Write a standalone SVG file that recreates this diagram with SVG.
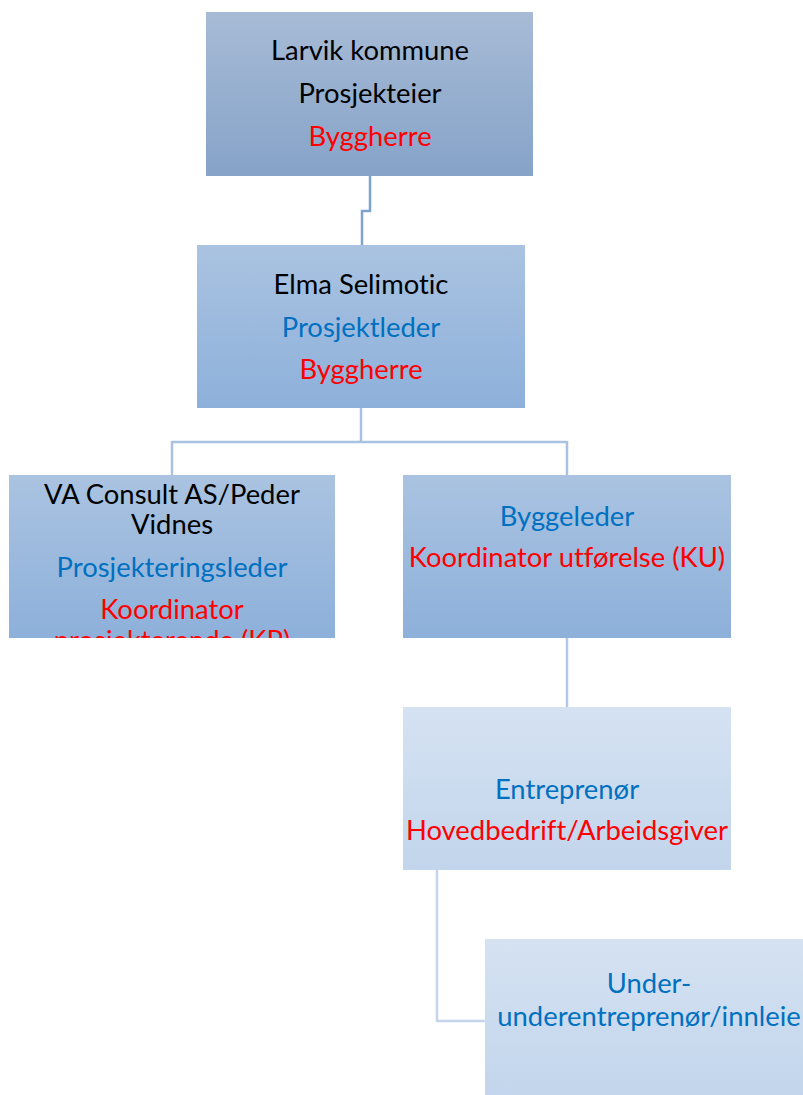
<svg xmlns="http://www.w3.org/2000/svg" width="803" height="1095" viewBox="0 0 803 1095">
<style>
text{font-family:Lato,"Carlito","Liberation Sans",sans-serif;font-size:27.4px;text-anchor:middle;dominant-baseline:central;font-variant-ligatures:none}
.k{fill:#000}.b{fill:#0070c0}.r{fill:#ff0000}
.c{fill:none;stroke-width:2.5}
</style>
<defs>
<linearGradient id="g1" x1="0" y1="0" x2="0" y2="1"><stop offset="0" stop-color="#a7bbd6"/><stop offset="1" stop-color="#86a3c8"/></linearGradient>
<linearGradient id="g2" x1="0" y1="0" x2="0" y2="1"><stop offset="0" stop-color="#aac3e1"/><stop offset="1" stop-color="#8db0da"/></linearGradient>
<linearGradient id="g3" x1="0" y1="0" x2="0" y2="1"><stop offset="0" stop-color="#d5e2f2"/><stop offset="1" stop-color="#c2d5ec"/></linearGradient>
<clipPath id="cp3"><rect x="9" y="475" width="326" height="163"/></clipPath>
</defs>
<g id="connectors">
<path class="c" stroke="#7fa3cf" d="M370 176V211H362V245"/>
<path class="c" stroke="#a9c2e2" d="M361 408V442M172 442H567M172 441V475M567 441V475"/>
<path class="c" stroke="#b3c8e6" d="M567 638V707"/>
<path class="c" stroke="#c4d5eb" d="M437 870V1021H485"/>
</g>
<g id="n1">
<rect x="206" y="12" width="327" height="164" fill="url(#g1)"/>
<text x="370" y="49" class="k">Larvik kommune</text>
<text x="370" y="92" class="k">Prosjekteier</text>
<text x="370" y="135" class="r">Byggherre</text>
</g>
<g id="n2">
<rect x="197" y="245" width="328" height="163" fill="url(#g2)"/>
<text x="361" y="283" class="k">Elma Selimotic</text>
<text x="361" y="326" class="b">Prosjektleder</text>
<text x="361" y="368" class="r">Byggherre</text>
</g>
<g id="n3">
<rect x="9" y="475" width="326" height="163" fill="url(#g2)"/>
<g clip-path="url(#cp3)">
<text x="172" y="493" class="k">VA Consult AS/Peder</text>
<text x="172" y="523" class="k">Vidnes</text>
<text x="172" y="566" class="b">Prosjekteringsleder</text>
<text x="172" y="608" class="r">Koordinator</text>
<text x="172" y="639" class="r">prosjekterende (KP)</text>
</g>
</g>
<g id="n4">
<rect x="403" y="475" width="328" height="163" fill="url(#g2)"/>
<text x="567" y="515" class="b">Byggeleder</text>
<text x="567" y="556" class="r">Koordinator utførelse (KU)</text>
</g>
<g id="n5">
<rect x="403" y="707" width="328" height="163" fill="url(#g3)"/>
<text x="567" y="788" class="b">Entreprenør</text>
<text x="567" y="829" class="r">Hovedbedrift/Arbeidsgiver</text>
</g>
<g id="n6">
<rect x="485" y="939" width="328" height="163" fill="url(#g3)"/>
<text x="649" y="982" class="b">Under-</text>
<text x="649" y="1015" class="b">underentreprenør/innleie</text>
</g>
</svg>
